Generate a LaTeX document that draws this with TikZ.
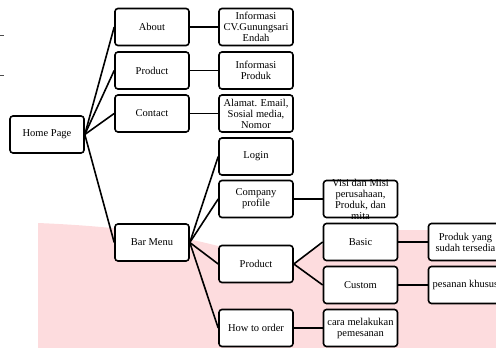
\documentclass[tikz,border=0pt]{standalone}
\usepackage{fontspec}
\setmainfont{Liberation Serif}
\definecolor{pinkbg}{RGB}{253,220,222}
\begin{document}
\begin{tikzpicture}[x=1pt,y=-1pt,
  box/.style={draw, line width=1.6pt, rounded corners=3pt, fill=white,
    minimum width=74pt, minimum height=37pt, inner sep=1pt, align=center,
    font=\fontsize{10.5}{11}\selectfont},
  txt/.style={inner sep=0pt, align=center, font=\fontsize{10.5}{11}\selectfont},
  conn/.style={line width=1.6pt},
  tick/.style={line width=0.8pt, black!70}]
\useasboundingbox (0,0) rectangle (496,348);
\clip (0,0) rectangle (496,348);
% background
\fill[pinkbg] (38,348) -- (38,223) .. controls (110,226) and (190,234) .. (250,256)
  -- (292,268) .. controls (305,250) and (335,232) .. (400,230) -- (496,230)
  -- (496,348) -- cycle;
% small marks at left
\draw[tick] (0,35) -- (4,35);
\draw[tick] (0,75) -- (4,75);
% nodes
\node[box] (home) at (47,134.5) {Home Page};
\node[box] (about) at (152,27) {About};
\node[box] (prod1) at (152,70.5) {Product};
\node[box] (contact) at (152,113.5) {Contact};
\node[box] (bar) at (152,242.5) {Bar Menu};
\node[box] (infocv) at (256,27) {Informasi\\CV.Gunungsari\\Endah};
\node[box] (infoprod) at (256,70.5) {Informasi\\Produk};
\node[box] (alamat) at (256,113.5) {Alamat. Email,\\Sosial media,\\Nomor};
\node[box] (login) at (256,156.5) {Login};
\node[box] (company) at (256,199) {Company\\profile};
\node[box] (prod2) at (256,264) {Product};
\node[box] (howto) at (256,328) {How to order};
\node[box] (visi) at (360.5,199) {};
\node[txt] (visitext) at (visi.center) {Visi dan Misi\\perusahaan,\\Produk, dan\\mita};
\node[box] (basic) at (360.5,242) {Basic};
\node[box] (custom) at (360.5,285) {Custom};
\node[box] (cara) at (360.5,328) {cara melakukan\\pemesanan};
\node[box] (produkyang) at (465.5,242) {Produk yang\\sudah tersedia};
\node[box] (pesanan) at (465.5,285) {pesanan khusus};
% connectors
\foreach \t in {about,prod1,contact,bar}
  \draw[conn] (home.east) -- (\t.west);
\draw[conn] (about) -- (infocv);
\draw[conn] (prod1) -- (infoprod);
\draw[conn] (contact) -- (alamat);
\foreach \t in {login,company,prod2,howto}
  \draw[conn] (bar.east) -- (\t.west);
\draw[conn] (company) -- (visi);
\draw[conn] (prod2.east) -- (basic.west);
\draw[conn] (prod2.east) -- (custom.west);
\draw[conn] (basic) -- (produkyang);
\draw[conn] (custom) -- (pesanan);
\draw[conn] (howto) -- (cara);
\end{tikzpicture}
\end{document}
